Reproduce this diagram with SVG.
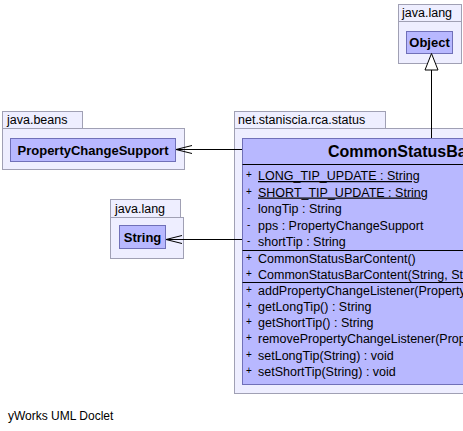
<svg xmlns="http://www.w3.org/2000/svg" width="463" height="431" viewBox="0 0 463 431">
<defs>
<style>
text{font-family:"Liberation Sans",Arial,sans-serif;fill:#000}
.pkg{fill:#eeeeff;stroke:#a0a0b4;stroke-width:1}
.cls{fill:#b8b8ff;stroke:#7070b8;stroke-width:1}
.sep{stroke:#000;stroke-width:1}
.pl{font-size:12.5px}
.cn{font-size:13px;font-weight:bold;text-anchor:middle}
.ti{font-size:16px;font-weight:bold}
.m{font-size:12.5px}
.v{font-size:10px}
.u{text-decoration:underline}
.edge{stroke:#000;stroke-width:1;fill:none}
</style>
</defs>
<rect width="463" height="431" fill="#fff"/>

<g id="pkg-java-lang-object">
<rect class="pkg" x="398.5" y="4.5" width="63" height="17"/>
<rect class="pkg" x="398.5" y="21.5" width="63" height="42"/>
<text class="pl" x="402" y="17">java.lang</text>
</g>
<g id="Object">
<rect class="cls" x="406.5" y="31.5" width="46" height="22"/>
<text class="cn" x="429.5" y="47">Object</text>
</g>

<g id="pkg-java-beans">
<rect class="pkg" x="2.5" y="111.5" width="80" height="17"/>
<rect class="pkg" x="2.5" y="128.5" width="182" height="41"/>
<text class="pl" x="7" y="124">java.beans</text>
</g>
<g id="PropertyChangeSupport">
<rect class="cls" x="10.5" y="138.5" width="165" height="23"/>
<text class="cn" x="93" y="154.5">PropertyChangeSupport</text>
</g>

<g id="pkg-java-lang-string">
<rect class="pkg" x="110.5" y="199.5" width="70" height="18"/>
<rect class="pkg" x="110.5" y="217.5" width="73" height="41"/>
<text class="pl" x="115" y="213">java.lang</text>
</g>
<g id="String">
<rect class="cls" x="119.5" y="225.5" width="46" height="23"/>
<text class="cn" x="142.5" y="241.5">String</text>
</g>

<g id="pkg-net-staniscia-rca-status">
<rect class="pkg" x="234.5" y="111.5" width="151" height="17"/>
<rect class="pkg" x="234.5" y="128.5" width="260" height="265"/>
<text class="pl" x="238" y="124">net.staniscia.rca.status</text>
</g>

<g id="CommonStatusBarContent">
<rect class="cls" x="242.5" y="138.5" width="378" height="246"/>
<text class="ti" x="328" y="157">CommonStatusBarContent</text>
<line class="sep" x1="242.5" y1="164.5" x2="620.5" y2="164.5"/>
<text class="v" x="246" y="178">+</text><text class="m u" x="258" y="180">LONG_TIP_UPDATE : String</text>
<text class="v" x="246" y="194.5">+</text><text class="m u" x="258" y="196.5">SHORT_TIP_UPDATE : String</text>
<text class="v" x="247" y="211">-</text><text class="m" x="258" y="213">longTip : String</text>
<text class="v" x="247" y="227.5">-</text><text class="m" x="258" y="229.5">pps : PropertyChangeSupport</text>
<text class="v" x="247" y="243.5">-</text><text class="m" x="258" y="245.5">shortTip : String</text>
<line class="sep" x1="242.5" y1="250.5" x2="620.5" y2="250.5"/>
<text class="v" x="246" y="260.5">+</text><text class="m" x="258" y="262.5">CommonStatusBarContent()</text>
<text class="v" x="246" y="276.5">+</text><text class="m" x="258" y="278.5">CommonStatusBarContent(String, String)</text>
<line class="sep" x1="242.5" y1="282.5" x2="620.5" y2="282.5"/>
<text class="v" x="246" y="293">+</text><text class="m" x="258" y="295">addPropertyChangeListener(PropertyChangeListener) : void</text>
<text class="v" x="246" y="309">+</text><text class="m" x="258" y="311">getLongTip() : String</text>
<text class="v" x="246" y="325.3">+</text><text class="m" x="258" y="327.3">getShortTip() : String</text>
<text class="v" x="246" y="341.4">+</text><text class="m" x="258" y="343.4">removePropertyChangeListener(PropertyChangeListener) : void</text>
<text class="v" x="246" y="357.5">+</text><text class="m" x="258" y="359.5">setLongTip(String) : void</text>
<text class="v" x="246" y="373.6">+</text><text class="m" x="258" y="375.6">setShortTip(String) : void</text>
</g>

<g id="connectors">
<line class="edge" x1="431.5" y1="138" x2="431.5" y2="70"/>
<polygon points="431.5,53.5 425,70 438,70" fill="#fff" stroke="#000" stroke-width="1"/>
<line class="edge" x1="242" y1="149.5" x2="176" y2="149.5"/>
<polyline class="edge" points="192,145.5 176,149.5 192,153.5"/>
<line class="edge" x1="242" y1="239.5" x2="166" y2="239.5"/>
<polyline class="edge" points="182,235.5 166,239.5 182,243.5"/>
</g>

<text x="8" y="420" style="font-size:12px">yWorks UML Doclet</text>
</svg>
